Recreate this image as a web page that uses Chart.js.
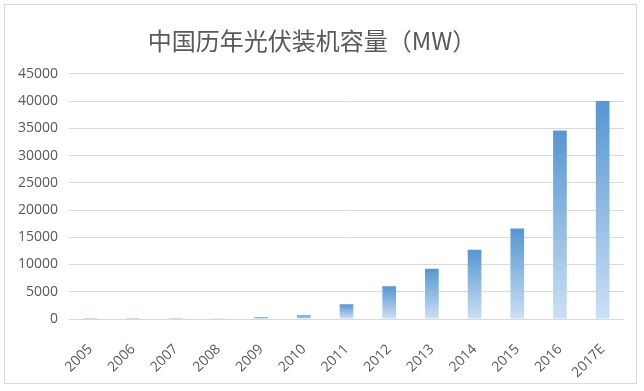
<!DOCTYPE html>
<html>
<head>
<meta charset="utf-8">
<script src="https://cdn.jsdelivr.net/npm/chart.js@4/dist/chart.umd.min.js"></script>
<style>
  html, body { margin: 0; padding: 0; background: #fff; }
  #frame {
    position: absolute; left: 4px; top: 4px;
    width: 631px; height: 378px;
    border: 1px solid #d9d9d9;
  }
  #wrap { position: absolute; left: 0; top: 0; width: 644px; height: 391px; }
</style>
</head>
<body>
<div id="frame"></div>
<div id="wrap"><canvas id="chart" width="644" height="391"></canvas></div>
<script>
// 年份 (类别)
const years = ["2005", "2006", "2007", "2008", "2009", "2010", "2011",
               "2012", "2013", "2014", "2015", "2016", "2017E"];
// 新增装机容量 MW
const capacity = [5, 10, 20, 40, 300, 700, 2700, 6000, 9200, 12700, 16600, 34600, 40000];

const titleText = "中国历年光伏装机容量（MW）";
const yMax = 45000;
const yStep = 5000;

const textColor = "#595959";
const gridColor = "#d9d9d9";

// 每根柱子单独做渐变：上深下浅
function barFill(c) {
  const chart = c.chart;
  const yScale = chart.scales.y;
  const fallback = "rgb(120,170,220)";
  if (!yScale || c.raw === undefined) return fallback;
  const base = yScale.getPixelForValue(0);
  const top = Math.min(yScale.getPixelForValue(c.raw), base - 1);
  if (!isFinite(base) || !isFinite(top)) return fallback;
  const g = chart.ctx.createLinearGradient(0, top, 0, base);
  g.addColorStop(0, "rgb(86,150,210)");
  g.addColorStop(1, "rgb(203,224,245)");
  return g;
}

const ctx = document.getElementById("chart").getContext("2d");

new Chart(ctx, {
  type: "bar",
  data: {
    labels: years,
    datasets: [
      {
        label: "装机容量",
        data: capacity,
        backgroundColor: barFill,
        borderWidth: 0,
        categoryPercentage: 1,
        barPercentage: 0.32
      }
    ]
  },
  options: {
    responsive: false,
    animation: false,
    layout: { padding: { left: 0, right: 20, top: 0, bottom: 0 } },
    plugins: {
      legend: { display: false },
      tooltip: { enabled: false },
      title: {
        display: true,
        text: titleText,
        color: textColor,
        font: { family: "'Noto Sans CJK SC', sans-serif", size: 24, weight: "normal" },
        padding: { top: 26, bottom: 19 }
      }
    },
    scales: {
      x: {
        grid: { display: false },
        border: { display: false },
        ticks: {
          color: textColor,
          font: { family: "'Open Sans', sans-serif", size: 14 },
          minRotation: 45,
          maxRotation: 45,
          padding: 14,
          autoSkip: false
        },
        afterFit(scale) {
          scale.height = 72;
        }
      },
      y: {
        min: 0,
        max: yMax,
        grid: { color: gridColor, lineWidth: 1, drawTicks: false },
        border: { display: false },
        ticks: {
          stepSize: yStep,
          color: textColor,
          font: { family: "'Open Sans', sans-serif", size: 14 },
          padding: 11,
          callback: value => String(value)
        },
        afterFit(scale) {
          scale.width = 69;
        }
      }
    }
  }
});
</script>
</body>
</html>
